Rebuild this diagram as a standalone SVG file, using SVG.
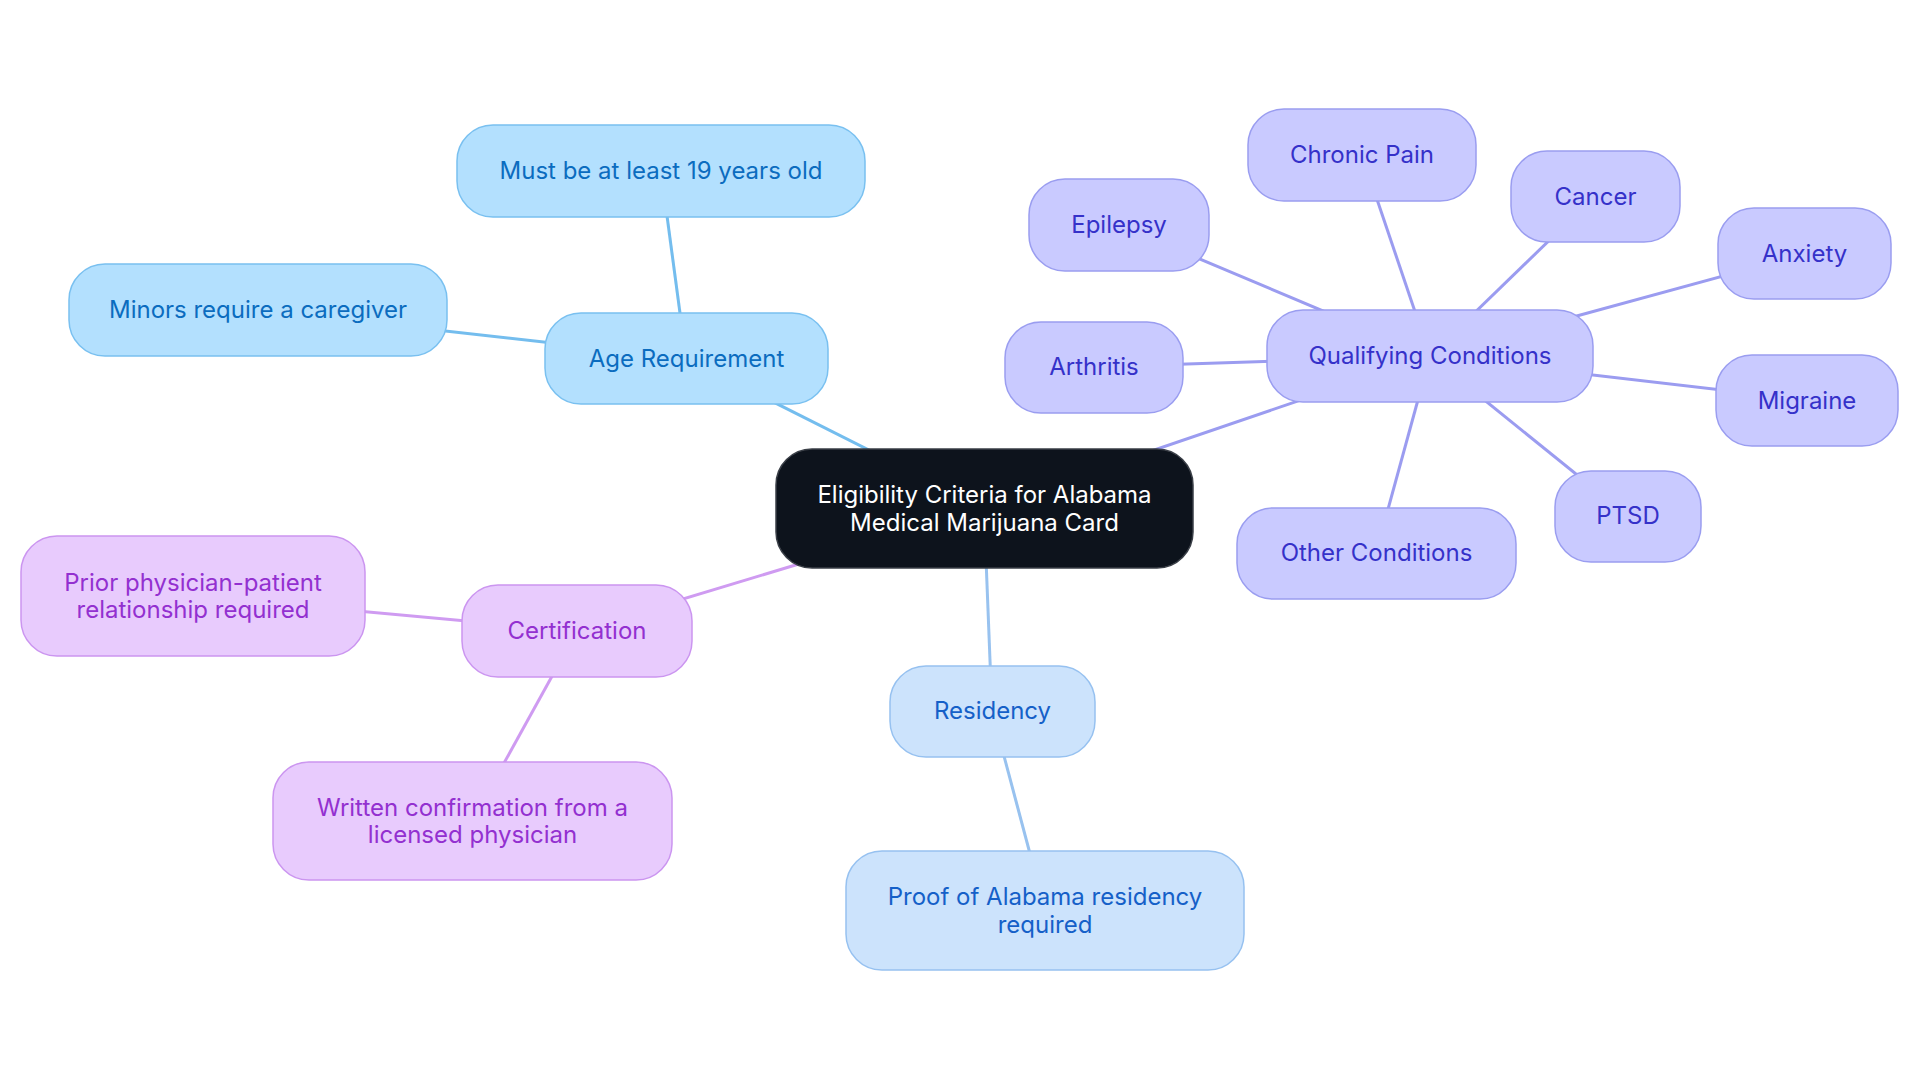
<svg xmlns="http://www.w3.org/2000/svg" width="1920" height="1083" viewBox="0 0 1920 1083">
<style>
text{font-family:Inter,"Noto Sans","Liberation Sans",sans-serif;font-size:24px;text-anchor:middle;dominant-baseline:central}
.e{stroke-width:3;fill:none}
.ea{stroke:#74bdee}.eq{stroke:#9b9cf0}.er{stroke:#98c2ef}.ec{stroke:#cf9bf1}
.na rect{fill:#b3e0fe;stroke:#79c0f0;stroke-width:1.5}.na text{fill:#0b6cbf}
.nq rect{fill:#c9caff;stroke:#9a9df0;stroke-width:1.5}.nq text{fill:#3531c9}
.nr rect{fill:#cce3fc;stroke:#96c1f0;stroke-width:1.5}.nr text{fill:#1560c8}
.nc rect{fill:#e8cbfd;stroke:#cb95f0;stroke-width:1.5}.nc text{fill:#9330d0}
.root rect{fill:#0d131c;stroke:#3a3f47;stroke-width:1.5}.root text{fill:#ffffff}
</style>
<rect width="1920" height="1083" fill="#ffffff"/>
<g id="connectors">
<line class="e ea" x1="984" y1="508" x2="686" y2="358"/>
<line class="e ea" x1="686" y1="358" x2="661" y2="171"/>
<line class="e ea" x1="686" y1="358" x2="258" y2="310"/>
<line class="e eq" x1="984" y1="508" x2="1430" y2="356"/>
<line class="e eq" x1="1430" y1="356" x2="1119" y2="225"/>
<line class="e eq" x1="1430" y1="356" x2="1362" y2="155"/>
<line class="e eq" x1="1430" y1="356" x2="1595" y2="196"/>
<line class="e eq" x1="1430" y1="356" x2="1804" y2="254"/>
<line class="e eq" x1="1430" y1="356" x2="1094" y2="367"/>
<line class="e eq" x1="1430" y1="356" x2="1807" y2="400"/>
<line class="e eq" x1="1430" y1="356" x2="1628" y2="516"/>
<line class="e eq" x1="1430" y1="356" x2="1376" y2="553"/>
<line class="e er" x1="984" y1="508" x2="992" y2="711"/>
<line class="e er" x1="992" y1="711" x2="1045" y2="910"/>
<line class="e ec" x1="984" y1="508" x2="577" y2="631"/>
<line class="e ec" x1="577" y1="631" x2="193" y2="596"/>
<line class="e ec" x1="577" y1="631" x2="472" y2="821"/>
</g>
<g id="root" class="root"><rect x="776" y="449" width="417" height="119" rx="36"/><text x="984.5" y="494">Eligibility Criteria for Alabama</text><text x="984.5" y="522">Medical Marijuana Card</text></g>
<g id="age" class="na"><rect x="545" y="313" width="283" height="91" rx="36"/><text x="686.5" y="358">Age Requirement</text></g>
<g id="age19" class="na"><rect x="457" y="125" width="408" height="92" rx="36"/><text x="661" y="170">Must be at least 19 years old</text></g>
<g id="minors" class="na"><rect x="69" y="264" width="378" height="92" rx="36"/><text x="258" y="309">Minors require a caregiver</text></g>
<g id="qualifying" class="nq"><rect x="1267" y="310" width="326" height="92" rx="36"/><text x="1430" y="355">Qualifying Conditions</text></g>
<g id="chronic" class="nq"><rect x="1248" y="109" width="228" height="92" rx="36"/><text x="1362" y="154">Chronic Pain</text></g>
<g id="cancer" class="nq"><rect x="1511" y="151" width="169" height="91" rx="36"/><text x="1595.5" y="196">Cancer</text></g>
<g id="epilepsy" class="nq"><rect x="1029" y="179" width="180" height="92" rx="36"/><text x="1119" y="224">Epilepsy</text></g>
<g id="anxiety" class="nq"><rect x="1718" y="208" width="173" height="91" rx="36"/><text x="1804.5" y="253">Anxiety</text></g>
<g id="arthritis" class="nq"><rect x="1005" y="322" width="178" height="91" rx="36"/><text x="1094" y="366">Arthritis</text></g>
<g id="migraine" class="nq"><rect x="1716" y="355" width="182" height="91" rx="36"/><text x="1807" y="400">Migraine</text></g>
<g id="ptsd" class="nq"><rect x="1555" y="471" width="146" height="91" rx="36"/><text x="1628" y="515">PTSD</text></g>
<g id="other" class="nq"><rect x="1237" y="508" width="279" height="91" rx="36"/><text x="1376.5" y="552">Other Conditions</text></g>
<g id="residency" class="nr"><rect x="890" y="666" width="205" height="91" rx="36"/><text x="992.5" y="710">Residency</text></g>
<g id="proof" class="nr"><rect x="846" y="851" width="398" height="119" rx="36"/><text x="1045" y="896">Proof of Alabama residency</text><text x="1045" y="924">required</text></g>
<g id="certification" class="nc"><rect x="462" y="585" width="230" height="92" rx="36"/><text x="577" y="630">Certification</text></g>
<g id="prior" class="nc"><rect x="21" y="536" width="344" height="120" rx="36"/><text x="193" y="582">Prior physician-patient</text><text x="193" y="609">relationship required</text></g>
<g id="written" class="nc"><rect x="273" y="762" width="399" height="118" rx="36"/><text x="472.5" y="807">Written confirmation from a</text><text x="472.5" y="834">licensed physician</text></g>
</svg>
